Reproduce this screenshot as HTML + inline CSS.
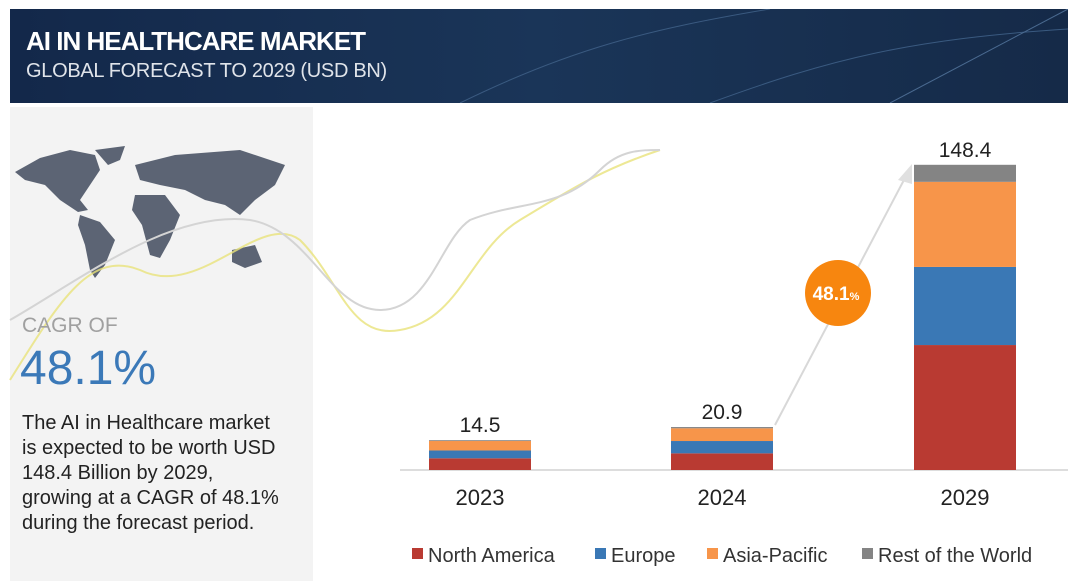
<!DOCTYPE html>
<html><head><meta charset="utf-8"><style>
body{margin:0;width:1080px;height:581px;overflow:hidden;background:#fff;font-family:"Liberation Sans",sans-serif;position:relative}
#hdr{position:absolute;left:10px;top:9px;width:1058px;height:94px;background:linear-gradient(90deg,#13284a,#1a3558 50%,#152a48);overflow:hidden}
#hdr .t1{position:absolute;left:16px;top:17px;color:#fff;font-size:26px;font-weight:bold;letter-spacing:-1px}
#hdr .t2{position:absolute;left:16px;top:51px;color:#e0e4ea;font-size:20px;letter-spacing:-0.3px}
#lp{position:absolute;left:10px;top:107px;width:303px;height:474px;background:#f3f3f3}
.cg{position:absolute;left:22px;top:314px;font-size:21px;color:#a0a0a0}
.pct{position:absolute;left:20px;top:341px;font-size:48px;color:#3b79b8}
.para{position:absolute;left:22px;top:411px;font-size:20px;line-height:25px;color:#222}
</style></head><body>
<div id="hdr">
<svg width="1058" height="94" style="position:absolute;left:0;top:0"><path d="M450 94 C560 40 640 20 760 0" stroke="#3a5a80" fill="none"/><path d="M700 94 C820 50 900 30 1058 20" stroke="#3a5a80" fill="none"/><path d="M880 94 L1058 0" stroke="#4a6a90" fill="none"/></svg>
<div class="t1">AI IN HEALTHCARE MARKET</div>
<div class="t2">GLOBAL FORECAST TO 2029 (USD BN)</div>
</div>
<div id="lp"></div>
<svg width="1080" height="581" style="position:absolute;left:0;top:0" id="ch">
<g fill="#5c6474">
<path d="M15 172 L40 158 L70 150 L95 155 L100 170 L90 185 L80 200 L88 210 L78 212 L60 200 L45 185 L25 180Z"/>
<path d="M95 150 L125 146 L120 160 L108 165Z"/>
<path d="M80 215 L100 222 L115 240 L105 265 L95 278 L90 270 L85 245 L78 225Z"/>
<path d="M135 165 L175 155 L240 150 L285 165 L275 185 L255 200 L240 215 L225 205 L205 200 L185 190 L160 185 L140 180Z"/>
<path d="M135 195 L165 195 L180 215 L170 240 L160 258 L150 255 L142 225 L132 210Z"/>
<path d="M232 250 L255 245 L262 262 L245 268 L232 262Z"/>
</g>
<path d="M10 380 C60 300 90 250 140 270 C200 300 260 210 300 240 C340 280 350 340 400 330 C460 320 470 250 520 220 C570 190 600 170 660 150" stroke="#e8e27a" stroke-width="2" fill="none" opacity=".8"/>
<path d="M10 320 C80 280 170 210 250 220 C310 230 330 310 380 310 C430 310 440 240 470 220 C520 200 560 210 600 170 C620 150 640 150 660 150" stroke="#d4d4d4" stroke-width="2" fill="none"/>
<line x1="775" y1="425" x2="905" y2="178" stroke="#d8d8d8" stroke-width="2"/>
<polygon points="912,164 898,180 912,184" fill="#e0e0e0"/>
<circle cx="838" cy="293" r="33" fill="#f7860f"/>
<text x="836" y="300" text-anchor="middle" fill="#fff" font-size="19" font-weight="bold" font-family="Liberation Sans">48.1<tspan font-size="11">%</tspan></text>
<line x1="400" y1="470" x2="1068" y2="470" stroke="#ddd" stroke-width="2"/>
<g id="bars"></g>
</svg>
<div class="cg">CAGR OF</div>
<div class="pct">48.1%</div>
<div class="para">The AI in Healthcare market<br>is expected to be worth USD<br>148.4 Billion by 2029,<br>growing at a CAGR of 48.1%<br>during the forecast period.</div>
<script>
const years=["2023","2024","2029"];
const northAmerica=[5.7,8.1,60.8];
const europe=[3.8,6.0,38.0];
const asiaPacific=[4.6,6.2,41.4];
const restOfWorld=[0.4,0.6,8.3];
const totals=["14.5","20.9","148.4"];
const seriesNames=["North America","Europe","Asia-Pacific","Rest of the World"];
const colors=["#b93a32","#3a78b5","#f7954a","#848484"];
const series=[northAmerica,europe,asiaPacific,restOfWorld];
const ns="http://www.w3.org/2000/svg";
const g=document.getElementById('bars');
const base=470, k=305/148.4;
const xc=i=>[480,722,965][i];
const yv=v=>v*k;
years.forEach((yr,i)=>{
  let y=base;
  series.forEach((s,j)=>{
    const h=yv(s[i]);
    const r=document.createElementNS(ns,'rect');
    r.setAttribute('x',xc(i)-51);r.setAttribute('width',102);
    r.setAttribute('y',y-h);r.setAttribute('height',h);r.setAttribute('fill',colors[j]);
    
    
    g.appendChild(r);y-=h;
  });
  const t=document.createElementNS(ns,'text');
  t.setAttribute('x',xc(i));t.setAttribute('y',y-8);t.setAttribute('text-anchor','middle');
  t.setAttribute('font-size','21');t.setAttribute('font-family','Liberation Sans');t.setAttribute('fill','#222');
  t.textContent=totals[i];
  
  
  g.appendChild(t);
  const l=document.createElementNS(ns,'text');
  l.setAttribute('x',xc(i));l.setAttribute('y',505);l.setAttribute('text-anchor','middle');
  l.setAttribute('font-size','22');l.setAttribute('font-family','Liberation Sans');l.setAttribute('fill','#222');
  l.textContent=yr;
  
  
  g.appendChild(l);
});
const lx=[412,595,707,862];
seriesNames.forEach((n,j)=>{
  const r=document.createElementNS(ns,'rect');
  r.setAttribute('x',lx[j]);r.setAttribute('y',548);r.setAttribute('width',11);r.setAttribute('height',11);r.setAttribute('fill',colors[j]);
  
  
  g.appendChild(r);
  const t=document.createElementNS(ns,'text');
  t.setAttribute('x',lx[j]+16);t.setAttribute('y',562);t.setAttribute('font-size','20');
  t.setAttribute('font-family','Liberation Sans');t.setAttribute('fill','#333');t.textContent=n;
  
  
  g.appendChild(t);
});
</script>
</body></html>
